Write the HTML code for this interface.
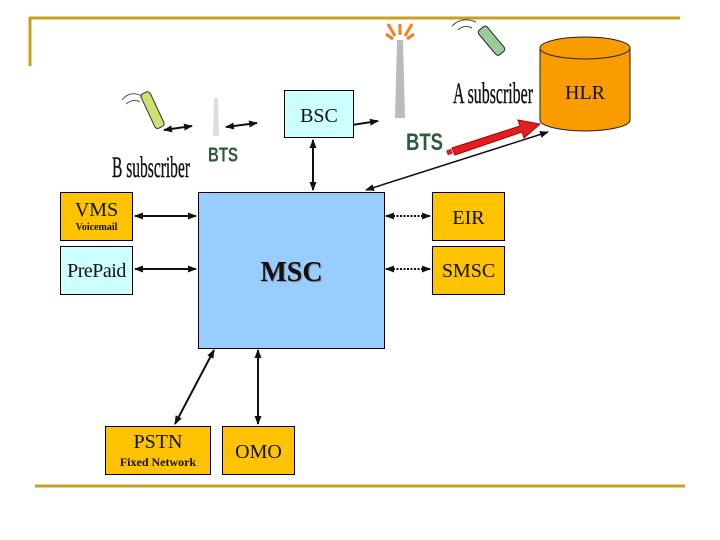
<!DOCTYPE html>
<html><head><meta charset="utf-8"><style>
body{margin:0;width:720px;height:540px;background:#fff;overflow:hidden;position:relative;font-family:"Liberation Serif",serif}
.b{position:absolute;border:1px solid #000;box-sizing:border-box;text-align:center;color:#111}
.o{background:#fdc200}
</style></head><body>
<svg width="720" height="540" style="position:absolute;left:0;top:0">
<defs>
<marker id="a" markerWidth="9" markerHeight="9" refX="8" refY="4.5" orient="auto-start-reverse" markerUnits="userSpaceOnUse"><path d="M0,1 L9,4.5 L0,8 Z" fill="#111"/></marker>
</defs>
<g stroke="#c8a020" stroke-width="3" fill="none">
<line x1="29" y1="18" x2="680" y2="18"/><line x1="30" y1="17" x2="30" y2="66"/>
<line x1="35" y1="486" x2="685" y2="486"/>
</g>
<g stroke="#111" stroke-width="2" fill="none" marker-start="url(#a)" marker-end="url(#a)">
<line x1="135" y1="216" x2="196" y2="216"/>
<line x1="135" y1="269" x2="196" y2="269"/>
<line x1="386" y1="216" x2="430" y2="216" stroke-dasharray="2,1.5"/>
<line x1="386" y1="269" x2="430" y2="269" stroke-dasharray="2,1.5"/>
<line x1="214" y1="350" x2="175" y2="424"/>
<line x1="258" y1="350" x2="258" y2="424"/>
<line x1="313" y1="140" x2="313" y2="190"/>
<line x1="548" y1="132" x2="366" y2="190" stroke-width="1.5"/>
<line x1="164" y1="130" x2="192" y2="126"/>
<line x1="226" y1="127" x2="257" y2="123"/>
<line x1="339" y1="127" x2="378" y2="121"/>
</g>
<path d="M452,148 L520,126 L518,120 L540,124 L524,138 L522,132 L455,155 Z" fill="#e02020" stroke="#a00" stroke-width="1"/>
<line x1="447" y1="153" x2="452" y2="151" stroke="#e02020" stroke-width="5"/>
<path d="M214,98 L218,98 L219,136 L213,136 Z" fill="#ddd"/>
<path d="M397,40 L403,40 L405,118 L395,118 Z" fill="#bbb"/>
<g stroke="#f08020" stroke-width="3"><line x1="400" y1="35" x2="400" y2="24"/><line x1="395" y1="36" x2="388" y2="24"/><line x1="405" y1="36" x2="412" y2="24"/><line x1="393" y1="39" x2="386" y2="34"/><line x1="407" y1="39" x2="414" y2="34"/></g>
<g transform="translate(140,95) rotate(-25)"><rect x="0" y="0" width="10" height="38" rx="3" fill="#cde070" stroke="#333"/></g>
<path d="M122,100 q8,-10 20,-4 M126,104 q8,-6 14,-2" stroke="#555" fill="none"/>
<g transform="translate(477,32) rotate(-40)"><rect x="0" y="0" width="11" height="32" rx="3" fill="#9c9" stroke="#222"/></g>
<path d="M452,26 q10,-10 24,-4 M458,30 q6,-6 14,-2" stroke="#444" fill="none"/>
<path d="M540,48 L540,120 A45,11 0 0 0 630,120 L630,48" fill="#f89c00" stroke="#222"/>
<ellipse cx="585" cy="48" rx="45" ry="11" fill="#f89c00" stroke="#222"/>
<text x="585" y="99" font-size="20" text-anchor="middle" fill="#111" font-family="Liberation Serif">HLR</text>
<g font-family="Liberation Sans, sans-serif" font-weight="bold" fill="#2d5a3a">
<text x="208" y="162" font-size="18" textLength="30" lengthAdjust="spacingAndGlyphs" transform="translate(0,-20) scale(1,1.12)">BTS</text>
<text x="406" y="150" font-size="24" textLength="37" lengthAdjust="spacingAndGlyphs">BTS</text>
</g>
<g font-family="Liberation Serif, serif" fill="#111" stroke="#111" stroke-width="0.4">
<text x="112" y="177" font-size="30" textLength="78" lengthAdjust="spacingAndGlyphs">B subscriber</text>
<text x="453" y="103" font-size="30" textLength="80" lengthAdjust="spacingAndGlyphs">A subscriber</text>
</g>
</svg>
<div class="b" style="left:284px;top:90px;width:70px;height:48px;background:#ccffff;font-size:20px;line-height:50px">BSC</div>
<div class="b o" style="left:60px;top:192px;width:73px;height:49px"><div style="font-size:20px;line-height:24px;margin-top:5px">VMS</div><div style="font-size:10px;font-weight:bold;line-height:12px">Voicemail</div></div>
<div class="b" style="left:60px;top:246px;width:73px;height:49px;background:#ccffff;font-size:20px;line-height:48px;letter-spacing:-0.5px">PrePaid</div>
<div class="b" style="left:198px;top:192px;width:187px;height:157px;background:#99ccff;font-size:28px;font-weight:bold;line-height:160px;text-shadow:1px 1px 1px #888">MSC</div>
<div class="b o" style="left:432px;top:192px;width:73px;height:49px;font-size:20px;line-height:50px">EIR</div>
<div class="b o" style="left:432px;top:246px;width:73px;height:49px;font-size:20px;line-height:48px">SMSC</div>
<div class="b o" style="left:105px;top:426px;width:106px;height:49px"><div style="font-size:20px;line-height:24px;margin-top:3px">PSTN</div><div style="font-size:12px;font-weight:bold;line-height:16px">Fixed Network</div></div>
<div class="b o" style="left:222px;top:426px;width:73px;height:49px;font-size:20px;line-height:50px">OMO</div>
</body></html>
